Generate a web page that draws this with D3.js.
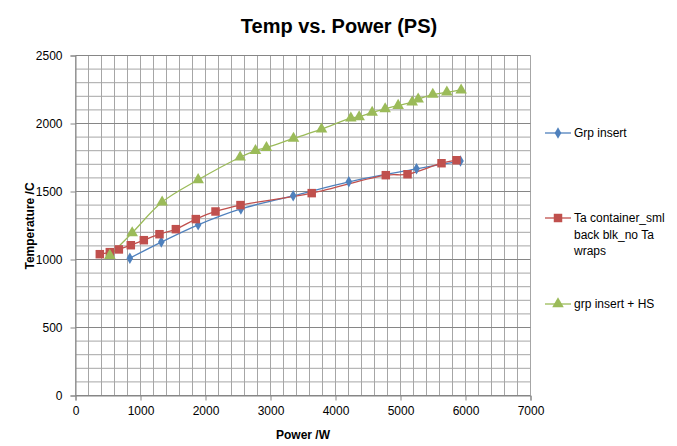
<!DOCTYPE html>
<html><head><meta charset="utf-8">
<script src="https://cdn.jsdelivr.net/npm/d3@7"></script>
<style>body{margin:0;background:#fff}svg{display:block}text{font-family:"Liberation Sans",Arial,sans-serif}</style>
</head><body><svg id="c" width="677" height="446"></svg>
<script>
const seriesNames = ["Grp insert", "Ta container_sml back blk_no Ta wraps", "grp insert + HS"];
const grpX = [836, 1320, 1887, 2544, 3349, 4205, 5246, 5923];
const grpY = [1010, 1128, 1255, 1372, 1468, 1571, 1667, 1724];
const taX = [374, 528, 667, 851, 1051, 1292, 1544, 1851, 2154, 2538, 3634, 4774, 5108, 5631, 5862];
const taY = [1039, 1054, 1074, 1105, 1142, 1186, 1223, 1297, 1353, 1400, 1488, 1620, 1627, 1708, 1730];
const hsX = [528, 872, 1333, 1887, 2533, 2769, 2938, 3354, 3785, 4236, 4364, 4564, 4764, 4964, 5180, 5272, 5497, 5713, 5933];
const hsY = [1029, 1196, 1422, 1586, 1752, 1801, 1823, 1890, 1958, 2039, 2049, 2081, 2108, 2132, 2157, 2179, 2213, 2230, 2245];
const xTicks = [0, 1000, 2000, 3000, 4000, 5000, 6000, 7000];
const yTicks = [0, 500, 1000, 1500, 2000, 2500];
const colors = ["#4F81BD", "#C0504D", "#9BBB59"];

const svg = d3.select("#c");
const L = 75.5, R = 530.5, T = 55.5, B = 395.5;
const x = d3.scaleLinear().domain([0, 7000]).range([L, R]);
const y = d3.scaleLinear().domain([0, 2500]).range([B, T]);

// minor grid
const g = svg.append("g");
g.selectAll(".vx").data(d3.range(0, 7001, 200)).join("line")
  .attr("x1", d => x(d)).attr("x2", d => x(d)).attr("y1", T).attr("y2", B)
  .attr("stroke", "#a6a6a6").attr("stroke-width", 1);
g.selectAll(".hy").data(d3.range(0, 2501, 100).filter(v => v % 500 !== 0)).join("line")
  .attr("x1", L).attr("x2", R).attr("y1", d => y(d)).attr("y2", d => y(d))
  .attr("stroke", "#a6a6a6").attr("stroke-width", 1);
g.selectAll(".hm").data(yTicks).join("line")
  .attr("x1", L).attr("x2", R).attr("y1", d => y(d)).attr("y2", d => y(d))
  .attr("stroke", "#868686").attr("stroke-width", 1);

// axes
const xa = svg.append("g").attr("transform", `translate(0,${B})`)
  .call(d3.axisBottom(x).tickValues(xTicks).tickSize(5).tickPadding(6).tickFormat(d3.format("d")));
const ya = svg.append("g").attr("transform", `translate(${L},0)`)
  .call(d3.axisLeft(y).tickValues(yTicks).tickSize(5).tickPadding(8).tickFormat(d3.format("d")));
[xa, ya].forEach(a => {
  a.select(".domain").attr("stroke", "#868686");
  a.selectAll(".tick line").attr("stroke", "#868686");
  a.selectAll("text").attr("fill", "#000").style("font-size", "12px").style("font-family", "Liberation Sans, Arial, sans-serif");
});

// series
const data = [
  grpX.map((v, i) => [v, grpY[i]]),
  taX.map((v, i) => [v, taY[i]]),
  hsX.map((v, i) => [v, hsY[i]])
];
const line = d3.line().x(d => x(d[0])).y(d => y(d[1])).curve(d3.curveCatmullRom.alpha(0.5));
const symbols = [d3.symbolDiamond, d3.symbolSquare, d3.symbolTriangle];
const sizes = [38, 72, 58];
data.forEach((pts, i) => {
  svg.append("path").attr("d", line(pts)).attr("fill", "none")
    .attr("stroke", colors[i]).attr("stroke-width", 1.3);
});
data.forEach((pts, i) => {
  svg.append("g").selectAll("path").data(pts).join("path")
    .attr("transform", d => `translate(${x(d[0])},${y(d[1])})`)
    .attr("d", d3.symbol().type(symbols[i]).size(sizes[i]))
    .attr("fill", colors[i]);
});

// title and axis titles
svg.append("text").attr("x", 339).attr("y", 33).attr("text-anchor", "middle")
  .style("font-size", "20px").style("font-weight", "bold").text("Temp vs. Power (PS)");
svg.append("text").attr("x", 303).attr("y", 439).attr("text-anchor", "middle")
  .style("font-size", "12px").style("font-weight", "bold").text("Power /W");
svg.append("text").attr("transform", "translate(34,226) rotate(-90)").attr("text-anchor", "middle")
  .style("font-size", "12px").style("font-weight", "bold").text("Temperature /C");

// legend
const legY = [133, 218, 304];
const legLines = [["Grp insert"], ["Ta container_sml", "back blk_no Ta", "wraps"], ["grp insert + HS"]];
legY.forEach((ly, i) => {
  const lg = svg.append("g");
  lg.append("line").attr("x1", 545).attr("x2", 571).attr("y1", ly).attr("y2", ly)
    .attr("stroke", colors[i]).attr("stroke-width", 1.3);
  lg.append("path").attr("transform", `translate(558,${ly})`)
    .attr("d", d3.symbol().type(symbols[i]).size(sizes[i])).attr("fill", colors[i]);
  legLines[i].forEach((t, j) => {
    lg.append("text").attr("x", 574).attr("y", ly + 4 + j * 16.5)
      .style("font-size", "12px").text(t);
  });
});
</script></body></html>
